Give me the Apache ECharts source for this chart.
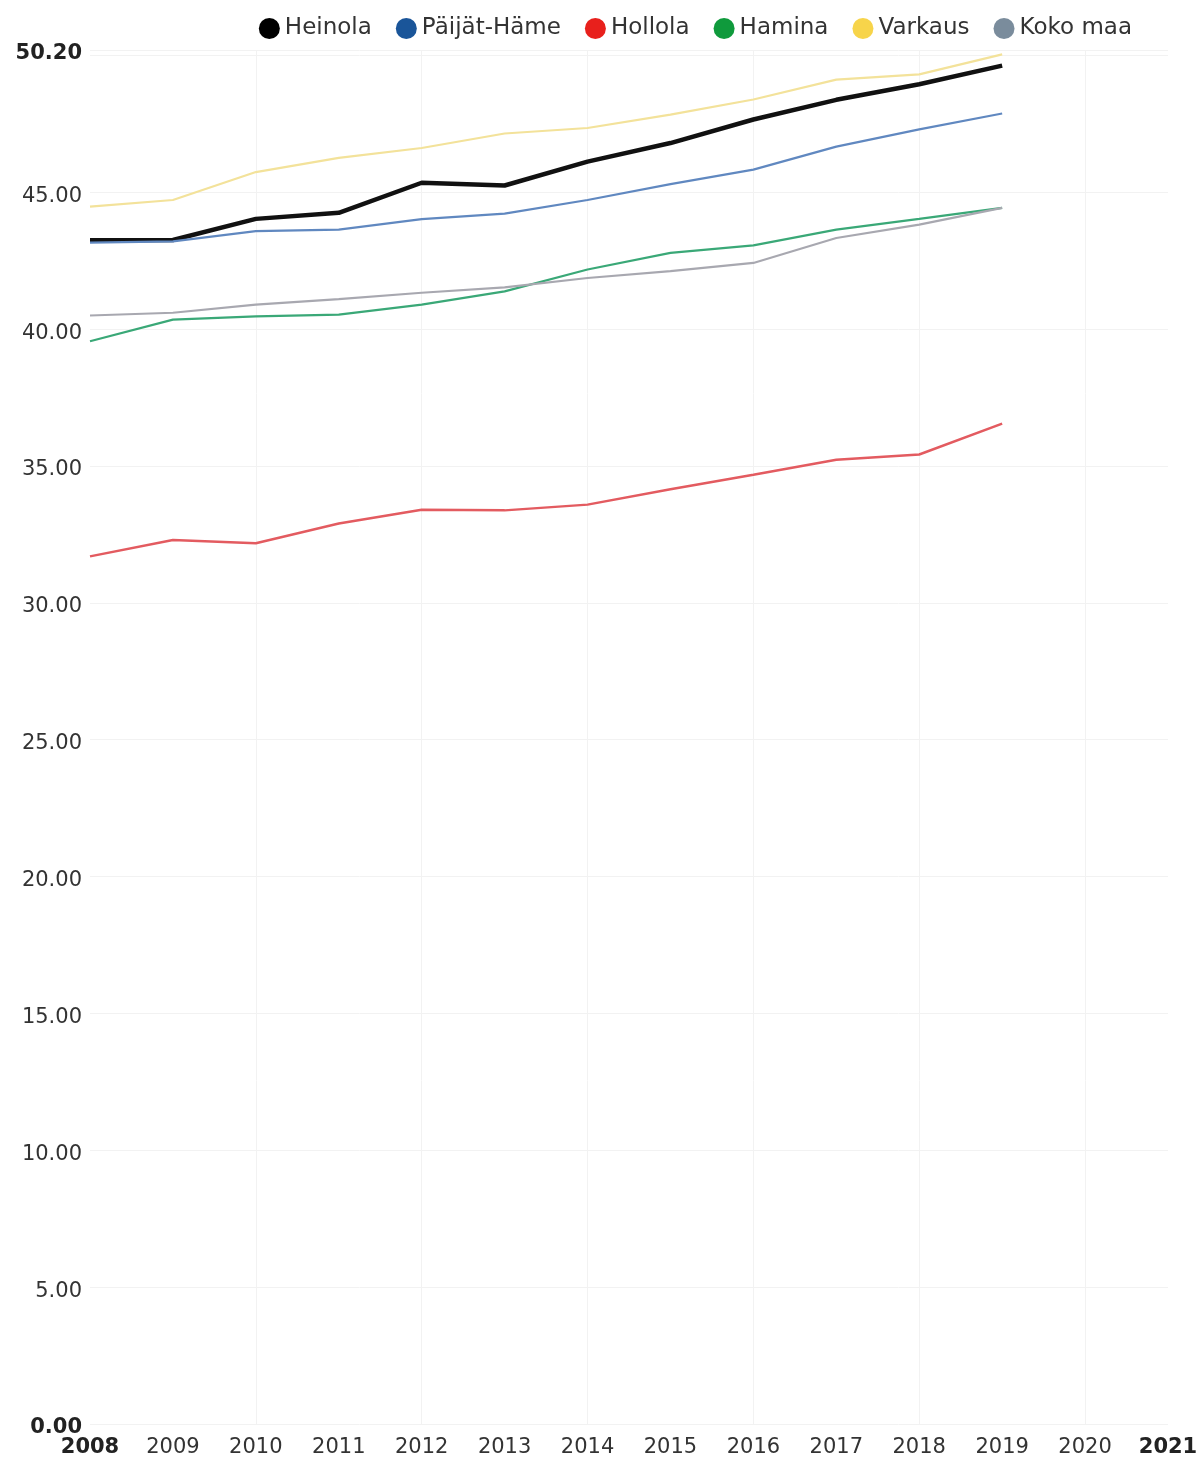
<!DOCTYPE html>
<html>
<head>
<meta charset="utf-8">
<script src="https://cdn.jsdelivr.net/npm/echarts@6/dist/echarts.min.js"></script>
<style>
  html, body { margin: 0; padding: 0; background: #fff; }
  #chart { width: 1201px; height: 1461px; }
</style>
</head>
<body>
<div id="chart"></div>
<script>
  // vuodet
  var years = ['2008', '2009', '2010', '2011', '2012', '2013', '2014', '2015', '2016', '2017', '2018', '2019', '2020', '2021']

  var heinola = [43.25, 43.26, 44.03, 44.25, 45.35, 45.25, 46.12, 46.80, 47.66, 48.38, 48.95, 49.63]
  var paijatHame = [43.16, 43.21, 43.58, 43.64, 44.02, 44.22, 44.72, 45.30, 45.83, 46.67, 47.30, 47.88]
  var hollola = [31.70, 32.30, 32.18, 32.90, 33.40, 33.38, 33.59, 34.15, 34.68, 35.23, 35.42, 36.55]
  var hamina = [39.56, 40.35, 40.47, 40.53, 40.90, 41.38, 42.18, 42.79, 43.06, 43.64, 44.03, 44.43]
  var varkaus = [44.48, 44.72, 45.74, 46.26, 46.62, 47.15, 47.35, 47.84, 48.39, 49.12, 49.31, 50.04]
  var kokoMaa = [40.50, 40.60, 40.90, 41.10, 41.33, 41.53, 41.87, 42.12, 42.42, 43.33, 43.82, 44.43]

  var yMax = 50.2

  var chart = echarts.init(document.getElementById('chart'))

  function line (name, data, color, lineColor, width) {
    return {
      name: name,
      type: 'line',
      data: data,
      symbol: 'none',
      itemStyle: {color: color},
      lineStyle: {color: lineColor, width: width},
      emphasis: {disabled: true}
    }
  }

  chart.setOption({
    animation: false,
    textStyle: {fontFamily: 'DejaVu Sans'},
    legend: {
      top: 12,
      right: 64,
      icon: 'circle',
      itemWidth: 21,
      itemHeight: 21,
      itemGap: 24,
      textStyle: {fontSize: 23, color: '#333', fontFamily: 'DejaVu Sans'}
    },
    grid: {
      left: 90,
      right: 33,
      top: 50,
      bottom: 37,
      containLabel: false
    },
    xAxis: {
      type: 'category',
      boundaryGap: false,
      data: years,
      axisLine: {show: false},
      axisTick: {show: false},
      axisLabel: {
        interval: 0,
        margin: 13,
        fontSize: 21,
        color: '#333',
        formatter: function (v, i) {
          return (i === 0 || i === years.length - 1) ? '{b|' + v + '}' : v
        },
        rich: {b: {fontWeight: 'bold', fontSize: 21, color: '#222'}}
      },
      splitLine: {
        show: true,
        interval: function (i) { return i > 0 && i % 2 === 0 },
        lineStyle: {color: '#f2f2f2', width: 1}
      }
    },
    yAxis: {
      type: 'value',
      min: 0,
      max: yMax,
      interval: 5,
      axisLine: {show: false},
      axisTick: {show: false},
      axisLabel: {
        margin: 8,
        padding: [8, 0, 0, 0],
        fontSize: 21,
        color: '#333',
        formatter: function (v) {
          if (Math.abs(v - 50) < 0.001) return ''
          var s = v.toFixed(2)
          if (v === 0 || Math.abs(v - yMax) < 0.001) return '{b|' + s + '}'
          return s
        },
        rich: {b: {fontWeight: 'bold', fontSize: 21, color: '#222'}}
      },
      splitLine: {lineStyle: {color: '#f2f2f2', width: 1}}
    },
    series: [
      line('Heinola', heinola, '#000000', '#111111', 4.5),
      line('Päijät-Häme', paijatHame, '#1a5599', '#6088c0', 2.2),
      line('Hollola', hollola, '#e8201c', '#e35b60', 2.5),
      line('Hamina', hamina, '#0f9a3c', '#3aa877', 2.2),
      line('Varkaus', varkaus, '#f7d44a', '#f3e29a', 2.2),
      line('Koko maa', kokoMaa, '#7a8c9c', '#a8a8b0', 2.2)
    ]
  })
</script>
</body>
</html>
